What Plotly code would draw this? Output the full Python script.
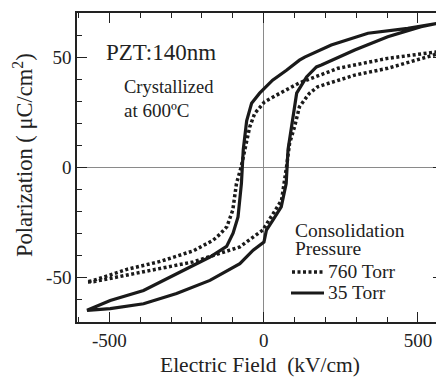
import plotly.graph_objects as go

# ---- data ----
# 35 Torr (solid): descending branch then ascending branch
E_35_down = [563, 467, 338, 219, 133, 116, 74, 29, -13, -39, -55, -61, -66, -72, -83, -99, -120, -174, -282, -389, -497, -572]
P_35_down = [65.3, 63, 60.8, 55.5, 50, 48.6, 44, 39.5, 33.6, 29, 21, 15, 8, -7.4, -22.6, -30, -36, -40.8, -48.3, -56, -60.5, -65]
E_35_up = [-572, -497, -389, -282, -174, -77, -34, 1, 9, 30, 57, 73, 76, 79, 90, 107, 139, 171, 187, 295, 402, 510, 563]
P_35_up = [-65, -64.2, -62, -57.4, -51.4, -43.8, -37.7, -34, -28.6, -24, -18, -7.4, 0, 8, 18, 33.6, 41, 45.5, 46.4, 53.2, 59.2, 63.8, 65.3]

# 760 Torr (dotted)
E_760_down = [563, 402, 241, 116, 52, 3, -29, -45, -60, -73, -88, -100, -119, -142, -164, -228, -335, -443, -551, -572]
P_760_down = [52.4, 49.4, 44.9, 38.3, 33.5, 29.7, 24.4, 18.3, 8.5, 0, -7.4, -19.5, -27, -30.5, -33.2, -38, -42.8, -46.4, -51.4, -52.1]
E_760_up = [-572, -551, -443, -335, -228, -110, -77, -3, 29, 58, 74, 84, 100, 116, 148, 175, 295, 402, 553, 563]
P_760_up = [-52.1, -52, -49, -46, -43, -37.7, -36.2, -28.6, -21.8, -15, 0, 10.8, 18.3, 27.4, 33.5, 36.5, 41.8, 44.9, 51, 52.4]

x_tickvals = [-500, 0, 500]
x_ticktext = ["-500", "0", "500"]
y_tickvals = [-50, 0, 50]
y_ticktext = ["-50", "0", "50"]

series_names = ["760 Torr", "35 Torr"]

FONT = "Liberation Serif"
INK = "#1a1a1a"

fig = go.Figure()
fig.add_trace(go.Scatter(x=E_760_down + E_760_up[1:], y=P_760_down + P_760_up[1:],
                         mode="lines", name=series_names[0], showlegend=False,
                         line=dict(color=INK, width=3.5, dash="3px,2.5px")))
fig.add_trace(go.Scatter(x=E_35_down + E_35_up[1:], y=P_35_down + P_35_up[1:],
                         mode="lines", name=series_names[1], showlegend=False,
                         line=dict(color=INK, width=3.2)))

# The page body has an 8px default margin, so the figure is drawn 8px in.
OFF = 8
W, H = 444 - OFF, 378 - OFF
L, T = 77 - OFF, 13 - OFF
R = 1
B = H - (322 - OFF)
pw, ph = W - L - R, H - T - B

def px(x):
    return (x - OFF - L) / pw

def py(y):
    return (H - B - (y - OFF)) / ph

axis_common = dict(
    showline=True, linecolor="#222", linewidth=1.5, mirror="allticks",
    ticks="inside", ticklen=10, tickwidth=1.3, tickcolor="#222",
    showgrid=False, zeroline=True, zerolinecolor="#8a8a8a", zerolinewidth=1,
    tickfont=dict(family=FONT, size=19, color="#222"),
    minor=dict(ticks="inside", ticklen=5, tickwidth=1.2, tickcolor="#222", showgrid=False),
    automargin=False,
)

fig.update_xaxes(range=[-604.6, 581], tickmode="array", tickvals=x_tickvals, ticktext=x_ticktext,
                 minor_dtick=100, minor_tick0=0, **axis_common)
fig.update_yaxes(range=[-70.3, 70], tickmode="array", tickvals=y_tickvals, ticktext=y_ticktext,
                 minor_dtick=10, minor_tick0=0, **axis_common)

ann = []
def text(t, x, y, size, **kw):
    d = dict(text=t, x=px(x), y=py(y), xref="paper", yref="paper", showarrow=False,
             xanchor="left", yanchor="middle", font=dict(family=FONT, size=size, color="#222"))
    d.update(kw)
    ann.append(d)

text("PZT:140nm", 104, 52, 23)
text("Crystallized", 122, 87, 18.5)
text("at 600ºC", 122, 110, 19)
text("Consolidation", 293, 230, 19.5)
text("Pressure", 293, 248, 19.5)
text("760 Torr", 326, 271, 19.5)
text("35 Torr", 326, 292, 19.5)
# axis titles
text("Electric Field  (kV/cm)", 260, 365, 21.5, xanchor="center")
text("Polarization ( μC/cm<sup>2</sup>)", 23, 155, 22.5, xanchor="center", textangle=-90)

shapes = [
    dict(type="line", xref="paper", yref="paper", x0=px(292), x1=px(325), y0=py(272), y1=py(272),
         line=dict(color=INK, width=3.5, dash="3px,2.5px")),
    dict(type="line", xref="paper", yref="paper", x0=px(291), x1=px(324), y0=py(293), y1=py(293),
         line=dict(color=INK, width=3.2)),
]

fig.update_layout(width=W, height=H, margin=dict(l=L, r=R, t=T, b=B, pad=0),
                  paper_bgcolor="white", plot_bgcolor="white",
                  annotations=ann, shapes=shapes, showlegend=False)

fig.write_html("out.html")
